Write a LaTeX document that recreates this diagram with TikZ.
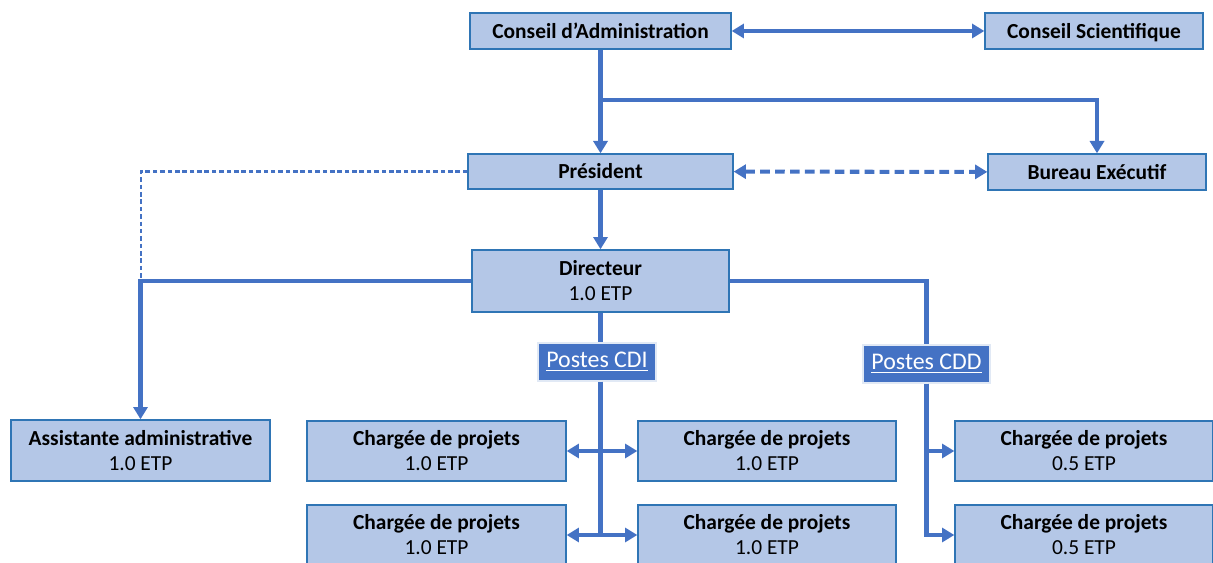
\documentclass[tikz,border=0pt]{standalone}
\usepackage{fontspec}
\setmainfont{Carlito}
\usetikzlibrary{arrows.meta}

\definecolor{boxfill}{HTML}{B4C7E7}
\definecolor{boxline}{HTML}{2F75B5}
\definecolor{linkblue}{HTML}{4472C4}

\begin{document}
\begin{tikzpicture}[x=0.02cm,y=-0.02cm]

    \useasboundingbox (0,0) rectangle (1213,563);
    \clip (0,0) rectangle (1213,563);

    \begin{scope}[every node/.style={draw=boxline,line width=0.8pt,fill=boxfill,inner sep=0pt,align=center,font=\fontsize{12.2}{14.2}\selectfont}]
        \node[minimum width=5.22cm,minimum height=0.72cm] (ca) at (600.5,31) {\textbf{Conseil d’Administration}};
        \node[text depth=0pt,minimum width=4.36cm,minimum height=0.72cm] (cs) at (1094,31) {\textbf{Conseil Scientifique}};
        \node[minimum width=5.30cm,minimum height=0.70cm] (pres) at (600.5,171.5) {\textbf{Président}};
        \node[minimum width=4.36cm,minimum height=0.72cm] (bur) at (1097,172) {\textbf{Bureau Exécutif}};
        \node[minimum width=5.14cm,minimum height=1.24cm] (dir) at (600.5,281) {\textbf{Directeur}\\1.0 ETP};
        \node[minimum width=5.18cm,minimum height=1.22cm] (asst) at (140.5,450.5) {\textbf{Assistante administrative}\\1.0 ETP};
        \node[minimum width=5.18cm,minimum height=1.20cm] (cpa) at (436.5,451) {\textbf{Chargée de projets}\\1.0 ETP};
        \node[minimum width=5.16cm,minimum height=1.20cm] (cpb) at (767,451) {\textbf{Chargée de projets}\\1.0 ETP};
        \node[minimum width=5.18cm,minimum height=1.20cm] (cpc) at (436.5,535) {\textbf{Chargée de projets}\\1.0 ETP};
        \node[minimum width=5.16cm,minimum height=1.20cm] (cpd) at (767,535) {\textbf{Chargée de projets}\\1.0 ETP};
        \node[minimum width=5.16cm,minimum height=1.20cm] (cpe) at (1084,451) {\textbf{Chargée de projets}\\0.5 ETP};
        \node[minimum width=5.16cm,minimum height=1.20cm] (cpf) at (1084,535) {\textbf{Chargée de projets}\\0.5 ETP};
    \end{scope}

    \begin{scope}[every node/.style={draw=boxfill!40,line width=0.6pt,fill=linkblue,text=white,inner sep=0pt,font=\fontsize{13.6}{15}\selectfont}]
        \node[minimum width=2.36cm,minimum height=0.76cm] (cdi) at (597,362) {\underline{Postes CDI}};
        \node[minimum width=2.54cm,minimum height=0.76cm] (cdd) at (926.5,364) {\underline{Postes CDD}};
    \end{scope}

    \coordinate (j1) at (600.5,100);
    \coordinate (j2) at (141,282);

    \begin{scope}[linkblue,line width=2.3pt,>={Triangle[length=7pt,width=8pt]}]
        \draw[<->] (ca) -- (cs);
        \draw[->] (ca) -- (pres);
        \draw[->] (j1) -| (bur);
        \draw[<->,dash pattern=on 5.5pt off 3pt] (pres) -- (bur);
        \draw[line width=1.3pt,dash pattern=on 2.6pt off 1.6pt] (pres.west) -| (j2);
        \draw[->] (pres) -- (dir);
        \draw[->] (dir.west) -| (asst.north);
        \draw (dir.east) -| (cdd.north);
        \draw (dir.south) -- (dir.south |- cdi.north);
        \draw (dir.south |- cdi.south) -- (dir.south |- cpc.west);
        \draw[<->] (cpa) -- (cpb);
        \draw[<->] (cpc) -- (cpd);
        \draw[->] (cdd.south) |- (cpe.west);
        \draw[->] (cdd.south) |- (cpf.west);
    \end{scope}

\end{tikzpicture}
\end{document}
